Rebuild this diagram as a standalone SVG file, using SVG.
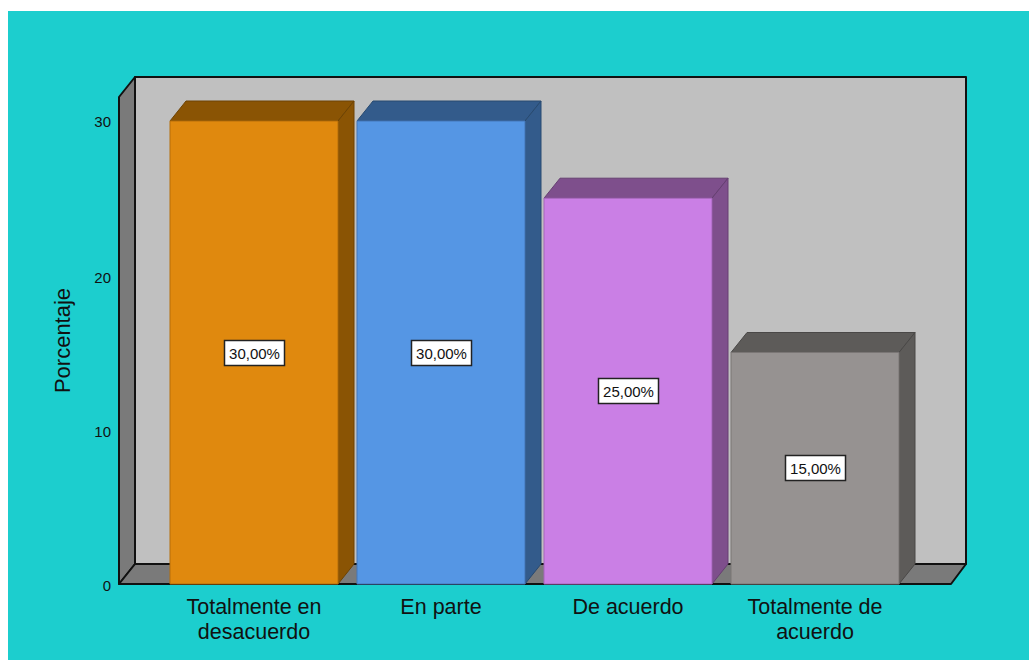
<svg xmlns="http://www.w3.org/2000/svg" width="1029" height="660" viewBox="0 0 1029 660">
<style>
.wall{stroke:#111;stroke-width:2;stroke-linejoin:round}
.tick{font-family:"Liberation Sans",Arial,sans-serif;font-size:15px;fill:#111;text-anchor:end}
.cat{font-family:"Liberation Sans",Arial,sans-serif;font-size:21.5px;fill:#111;text-anchor:middle}
.ytitle{font-family:"Liberation Sans",Arial,sans-serif;font-size:22px;fill:#111;text-anchor:middle}
.val{font-family:"Liberation Sans",Arial,sans-serif;font-size:15px;fill:#111;text-anchor:middle}
.vbox{fill:#fff;stroke:#222;stroke-width:1.5}
.edge{stroke-width:1;stroke-linejoin:round}
</style>
<rect x="0" y="0" width="1029" height="660" fill="#fff"/>
<rect x="8" y="11" width="1021" height="649" fill="#1ccece"/>
<g id="frame">
<rect class="wall" x="135" y="77" width="831" height="487" fill="#c0c0c0"/>
<polygon class="wall" points="119,97 135,77 135,564 119,584" fill="#7a7a7a"/>
<polygon class="wall" points="119,584 135,564 966,564 951,584" fill="#7a7a7a"/>
</g>
<g id="axis">
<text class="tick" x="111" y="127">30</text>
<text class="tick" x="111" y="283">20</text>
<text class="tick" x="111" y="437">10</text>
<text class="tick" x="111" y="591">0</text>
<text class="ytitle" transform="translate(70,340.5) rotate(-90)">Porcentaje</text>
</g>
<g id="bar1">
<polygon class="edge" points="170,121 186,101 354,101 338,121" fill="#8a5404" stroke="#6e4303"/>
<polygon class="edge" points="338,121 354,101 354,564 338,584" fill="#8a5404" stroke="#6e4303"/>
<rect class="edge" x="170" y="121" width="168" height="463" fill="#e0890e" stroke="#b56e0a"/>
<rect class="vbox" x="224.5" y="340.5" width="60" height="25"/>
<text class="val" x="254.5" y="358.5">30,00%</text>
</g>
<g id="bar2">
<polygon class="edge" points="357,121 373,101 541,101 525,121" fill="#335b8b" stroke="#284a70"/>
<polygon class="edge" points="525,121 541,101 541,564 525,584" fill="#335b8b" stroke="#284a70"/>
<rect class="edge" x="357" y="121" width="168" height="463" fill="#5596e4" stroke="#4477b8"/>
<rect class="vbox" x="411.5" y="340.5" width="60" height="25"/>
<text class="val" x="441.5" y="358.5">30,00%</text>
</g>
<g id="bar3">
<polygon class="edge" points="544,198.2 560,178.2 728,178.2 712,198.2" fill="#7e4f8c" stroke="#663f72"/>
<polygon class="edge" points="712,198.2 728,178.2 728,564 712,584" fill="#7e4f8c" stroke="#663f72"/>
<rect class="edge" x="544" y="198.2" width="168" height="385.8" fill="#ca7fe5" stroke="#a466ba"/>
<rect class="vbox" x="598.5" y="378.5" width="60" height="25"/>
<text class="val" x="628.5" y="396.5">25,00%</text>
</g>
<g id="bar4">
<polygon class="edge" points="731,352.5 747,332.5 915,332.5 899,352.5" fill="#5d5b59" stroke="#4a4847"/>
<polygon class="edge" points="899,352.5 915,332.5 915,564 899,584" fill="#5d5b59" stroke="#4a4847"/>
<rect class="edge" x="731" y="352.5" width="168" height="231.5" fill="#969291" stroke="#7a7675"/>
<rect class="vbox" x="785.5" y="455.5" width="60" height="25"/>
<text class="val" x="815.5" y="473.5">15,00%</text>
</g>
<g id="labels">
<text class="cat" x="254" y="614"><tspan x="254">Totalmente en</tspan><tspan x="254" dy="24.5">desacuerdo</tspan></text>
<text class="cat" x="441" y="614">En parte</text>
<text class="cat" x="628" y="614">De acuerdo</text>
<text class="cat" x="815" y="614"><tspan x="815">Totalmente de</tspan><tspan x="815" dy="24.5">acuerdo</tspan></text>
</g>
</svg>
